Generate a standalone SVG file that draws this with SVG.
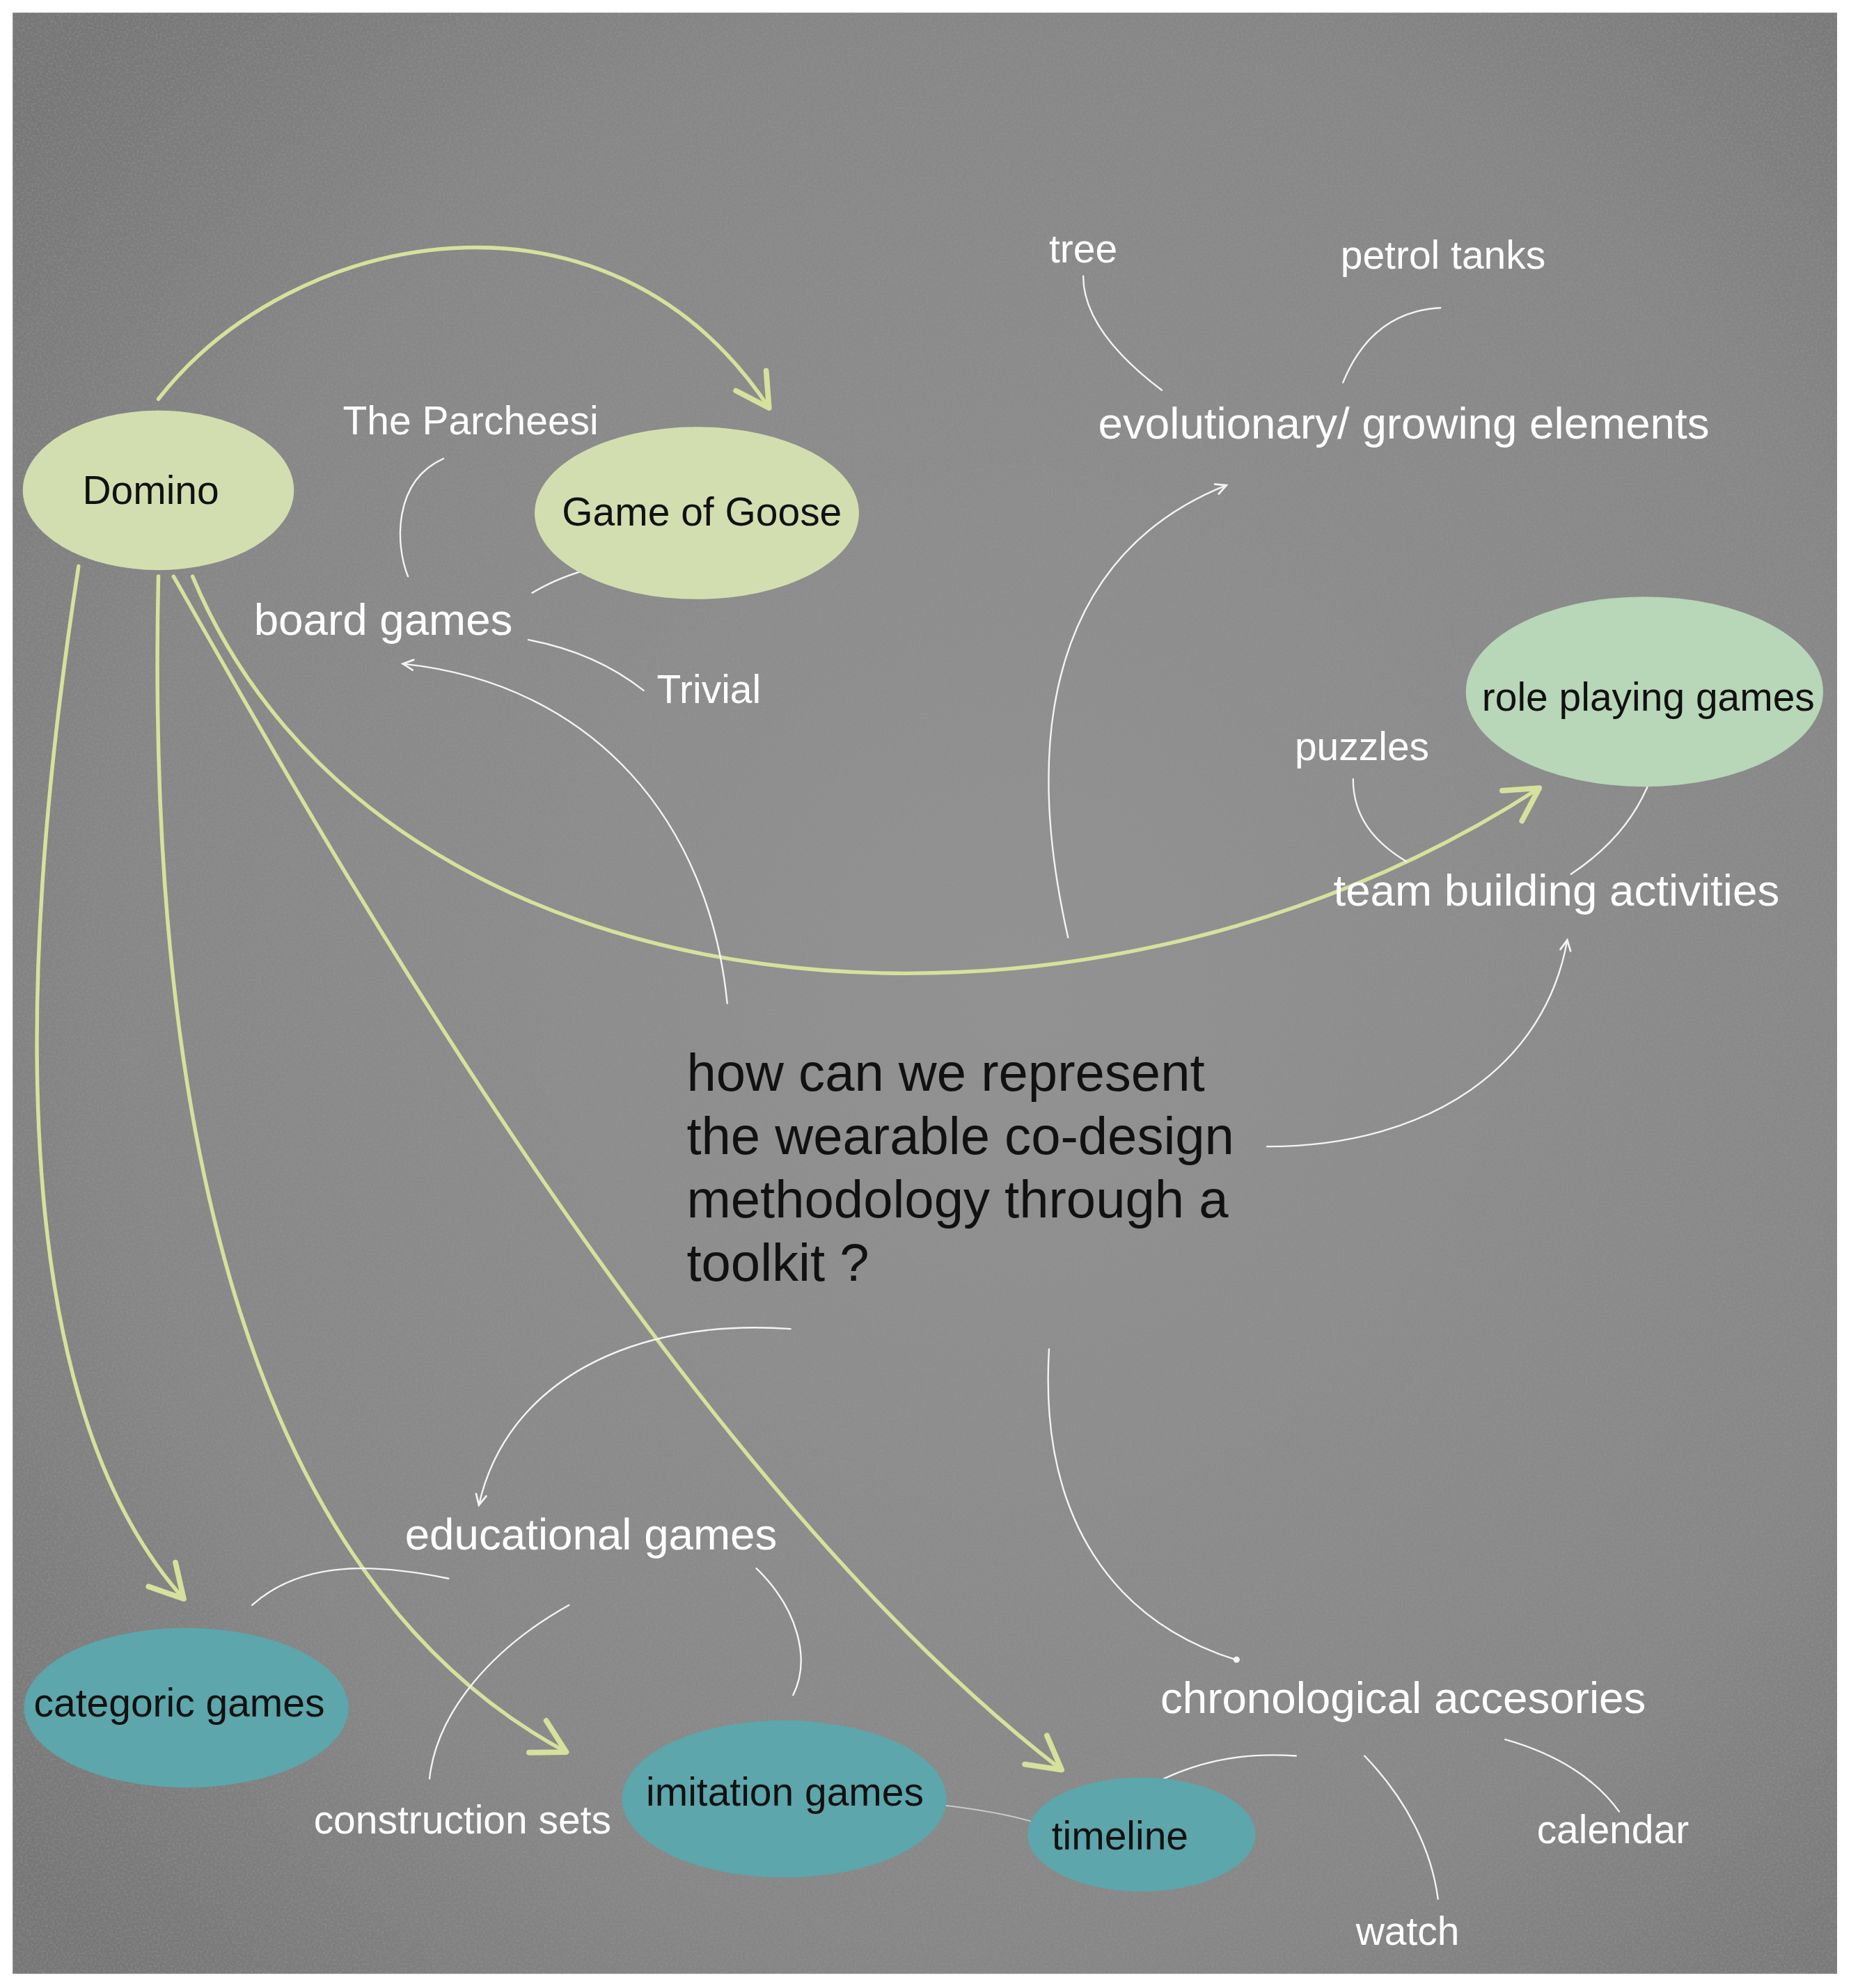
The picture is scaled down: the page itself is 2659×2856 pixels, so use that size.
<svg xmlns="http://www.w3.org/2000/svg" width="2659" height="2856" viewBox="0 0 2659 2856">
<defs>
<style>
.bg{fill:url(#bgg)}
.node-y{fill:#d3deb0}
.node-m{fill:#b8d6b8}
.node-t{fill:#5da6ab}
.nt{font-family:"Liberation Sans",Arial,sans-serif;font-size:31.3px;fill:#111;text-anchor:middle}
.wl{font-family:"Liberation Sans",Arial,sans-serif;font-size:31.3px;fill:#fff;text-anchor:middle}
.wb{font-family:"Liberation Sans",Arial,sans-serif;font-size:35px;fill:#fff;text-anchor:middle}
.q{font-family:"Liberation Sans",Arial,sans-serif;font-size:41.8px;fill:#111}
.ga{fill:none;stroke:#d6e19c;stroke-width:3;stroke-linecap:round}
.wa{fill:none;stroke:#f4f4f4;stroke-width:1.3;stroke-linecap:round}
.wf{fill:none;stroke:#f4f4f4;stroke-width:1.1;stroke-linecap:round;opacity:0.6}
</style>
<radialGradient id="bgg" cx="0.55" cy="0.5" r="0.7">
<stop offset="0" stop-color="#929292"/>
<stop offset="0.7" stop-color="#878787"/>
<stop offset="1" stop-color="#767676"/>
</radialGradient>
<filter id="noise" x="0" y="0" width="1" height="1">
<feTurbulence type="fractalNoise" baseFrequency="0.6" numOctaves="3" seed="3" result="n"/>
<feColorMatrix type="matrix" values="0 0 0 0 0.3  0 0 0 0 0.3  0 0 0 0 0.3  0 0 0 -2.2 1.35"/>
</filter>
<marker id="gh" markerUnits="userSpaceOnUse" markerWidth="40" markerHeight="40" viewBox="-22 -14 26 28" refX="0" refY="0" orient="auto">
<path d="M-18,-10 L0,0 L-18,10" fill="none" stroke="#d6e19c" stroke-width="3" stroke-linecap="round" stroke-linejoin="round"/>
</marker>
<marker id="wh" markerUnits="userSpaceOnUse" markerWidth="14" markerHeight="14" viewBox="-10 -6 12 12" refX="0" refY="0" orient="auto">
<path d="M-7,-3.5 L0,0 L-7,3.5" fill="none" stroke="#f4f4f4" stroke-width="1.3" stroke-linecap="round"/>
</marker>
</defs>
<rect x="0" y="0" width="2659" height="2856" fill="#ffffff"/>
<g transform="scale(1.82)">
<g id="background">
<rect class="bg" x="10" y="10" width="1440" height="1548"/>
<rect x="10" y="10" width="1440" height="1548" fill="#808080" filter="url(#noise)" opacity="0.5"/>
</g>
<g id="connectors">
<path class="ga" d="M125,315 C230,180 480,130 607,322" marker-end="url(#gh)"/>
<path class="ga" d="M62,447 C15,750 0,1100 145,1262" marker-end="url(#gh)"/>
<path class="ga" d="M125,455 C115,900 200,1250 447,1383" marker-end="url(#gh)"/>
<path class="ga" d="M137,455 C245,645 530,1160 838,1397" marker-end="url(#gh)"/>
<path class="ga" d="M152,455 C300,810 850,860 1215,622" marker-end="url(#gh)"/>
<path class="wa" d="M350,362 C310,380 312,430 322,455"/>
<path class="wa" d="M540,442 C490,440 450,450 420,468"/>
<path class="wa" d="M417,505 Q470,515 508,545"/>
<path class="wa" d="M574,792 C560,650 470,540 318,524" marker-end="url(#wh)"/>
<path class="wa" d="M843,740 C800,550 850,430 968,383" marker-end="url(#wh)"/>
<path class="wa" d="M855,218 C855,250 880,280 917,308"/>
<path class="wa" d="M1060,302 C1075,265 1100,245 1137,243"/>
<path class="wa" d="M1068,615 C1068,645 1085,665 1110,680"/>
<path class="wa" d="M1310,590 C1300,640 1270,670 1240,690"/>
<path class="wa" d="M1000,905 C1130,905 1220,840 1237,742" marker-end="url(#wh)"/>
<path class="wa" d="M624,1049 C500,1040 400,1090 378,1188" marker-end="url(#wh)"/>
<path class="wa" d="M199,1267 C240,1230 300,1235 354,1246"/>
<path class="wa" d="M339,1404 C345,1350 390,1300 449,1267"/>
<path class="wa" d="M597,1238 C630,1270 640,1310 626,1338"/>
<path class="wa" d="M828,1065 C820,1200 880,1280 975,1310"/>
<circle cx="976" cy="1310" r="2.5" fill="#f4f4f4"/>
<path class="wa" d="M900,1414 C940,1390 980,1383 1023,1386"/>
<path class="wa" d="M1077,1386 C1110,1420 1130,1460 1135,1499"/>
<path class="wa" d="M1188,1373 C1230,1385 1260,1405 1278,1430"/>
<path class="wf" d="M745,1425 C770,1428 795,1432 815,1438"/>
</g>
<g id="node-domino">
<ellipse class="node-y" cx="125" cy="387" rx="107" ry="63"/>
<text class="nt" x="119" y="398">Domino</text>
</g>
<g id="node-goose">
<ellipse class="node-y" cx="550" cy="405" rx="128" ry="68"/>
<text class="nt" x="554" y="415">Game of Goose</text>
</g>
<g id="node-roleplaying">
<ellipse class="node-m" cx="1298" cy="546" rx="141" ry="75"/>
<text class="nt" x="1301" y="561">role playing games</text>
</g>
<g id="node-categoric">
<ellipse class="node-t" cx="147" cy="1348" rx="128" ry="63"/>
<text class="nt" x="141.5" y="1355">categoric games</text>
</g>
<g id="node-imitation">
<ellipse class="node-t" cx="619" cy="1420" rx="128" ry="62"/>
<text class="nt" x="619.5" y="1425">imitation games</text>
</g>
<g id="node-timeline">
<ellipse class="node-t" cx="901" cy="1448" rx="90" ry="45"/>
<text class="nt" x="884" y="1460">timeline</text>
</g>
<g id="label-parcheesi"><text class="wl" x="371.5" y="343">The Parcheesi</text></g>
<g id="label-boardgames"><text class="wb" x="302.5" y="501">board games</text></g>
<g id="label-trivial"><text class="wl" x="559.5" y="555">Trivial</text></g>
<g id="label-tree"><text class="wl" x="855" y="207">tree</text></g>
<g id="label-petrol"><text class="wl" x="1139" y="212">petrol tanks</text></g>
<g id="label-evolutionary"><text class="wb" x="1108" y="346">evolutionary/ growing elements</text></g>
<g id="label-puzzles"><text class="wl" x="1075" y="600">puzzles</text></g>
<g id="label-teambuilding"><text class="wb" x="1228.5" y="715">team building activities</text></g>
<g id="label-question">
<text class="q" x="542" y="861">how can we represent</text>
<text class="q" x="542" y="911">the wearable co-design</text>
<text class="q" x="542" y="961">methodology through a</text>
<text class="q" x="542" y="1011">toolkit ?</text>
</g>
<g id="label-educational"><text class="wb" x="466.5" y="1223">educational games</text></g>
<g id="label-construction"><text class="wl" x="365" y="1447">construction sets</text></g>
<g id="label-chronological"><text class="wb" x="1107.5" y="1352">chronological accesories</text></g>
<g id="label-calendar"><text class="wl" x="1273" y="1455">calendar</text></g>
<g id="label-watch"><text class="wl" x="1111" y="1535">watch</text></g>
</g>
</svg>
